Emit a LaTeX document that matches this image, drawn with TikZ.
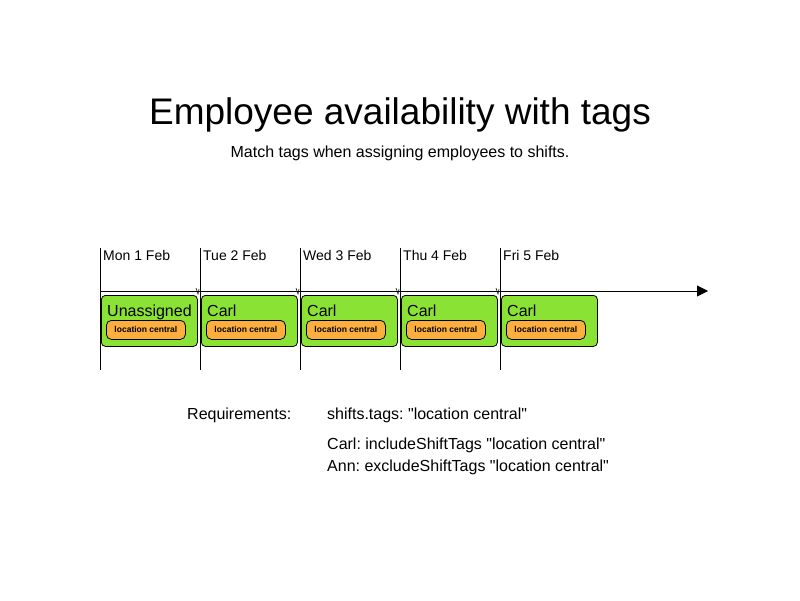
\documentclass[tikz,border=0pt]{standalone}
\usepackage{fontspec}
\setmainfont{Liberation Sans}[Ligatures=TeXOff]
\usetikzlibrary{arrows.meta}
\definecolor{shiftgreen}{HTML}{8AE234}
\definecolor{tagorange}{HTML}{FCAF3E}
\frenchspacing
\begin{document}
\begin{tikzpicture}[x=1pt,y=-1pt,
  daylabel/.style={anchor=base west,inner sep=0pt,font=\fontsize{14}{16}\selectfont},
  shiftbox/.style={draw,fill=shiftgreen,rounded corners=4pt,minimum width=96pt,minimum height=51pt,anchor=north west,inner sep=0pt,line width=0.8pt},
  tagbox/.style={draw,fill=tagorange,rounded corners=5pt,minimum width=79pt,minimum height=19pt,anchor=north west,inner sep=0pt,line width=0.8pt,font=\fontsize{8.5}{10}\selectfont\bfseries},
  whoname/.style={anchor=base west,inner sep=0pt,font=\fontsize{16}{18}\selectfont},
  reqtext/.style={anchor=base west,inner sep=0pt,font=\fontsize{16}{18}\selectfont},
  dayline/.style={line width=0.8pt},
  notch/.style={line width=0.6pt}]
\useasboundingbox (0,0) rectangle (800,600);

\node (title) at (400,115) {\fontsize{37}{42}\selectfont Employee availability with tags};
\node (subtitle) at (400,153) {\fontsize{16}{18}\selectfont Match tags when assigning employees to shifts.};

% time axis
\coordinate (axisstart) at (100,291);
\coordinate (axisend) at (708,291);
\draw[line width=0.8pt,-{Triangle[length=11pt,width=11pt]}] (axisstart) -- (axisend);

% day separators, labels, shifts
\foreach \i/\d/\who in {0/Mon 1 Feb/Unassigned,1/Tue 2 Feb/Carl,2/Wed 3 Feb/Carl,3/Thu 4 Feb/Carl,4/Fri 5 Feb/Carl}{
  \coordinate (top\i) at (100+100*\i,248);
  \coordinate (bot\i) at (100+100*\i,370);
  \draw[dayline] (top\i) -- (bot\i);
  \node[daylabel] (day\i) at (103+100*\i,260) {\d};
  \node[shiftbox] (shift\i) at (101+100*\i,295) {};
  \node[whoname] (who\i) at (107+100*\i,316) {\who};
  \node[tagbox] (tag\i) at (106+100*\i,320) {location central};
}
\foreach \i in {1,2,3,4}{
  \draw[notch] (96+100*\i,288) -- (98+100*\i,294) -- (99+100*\i,289);
}

% requirements
\node[reqtext] (reqlabel) at (187,419) {Requirements:};
\node[reqtext] (req1) at (327,419) {shifts.tags: "location central"};
\node[reqtext] (req2) at (327,449) {Carl: includeShiftTags "location central"};
\node[reqtext] (req3) at (327,471) {Ann: excludeShiftTags "location central"};
\end{tikzpicture}
\end{document}
